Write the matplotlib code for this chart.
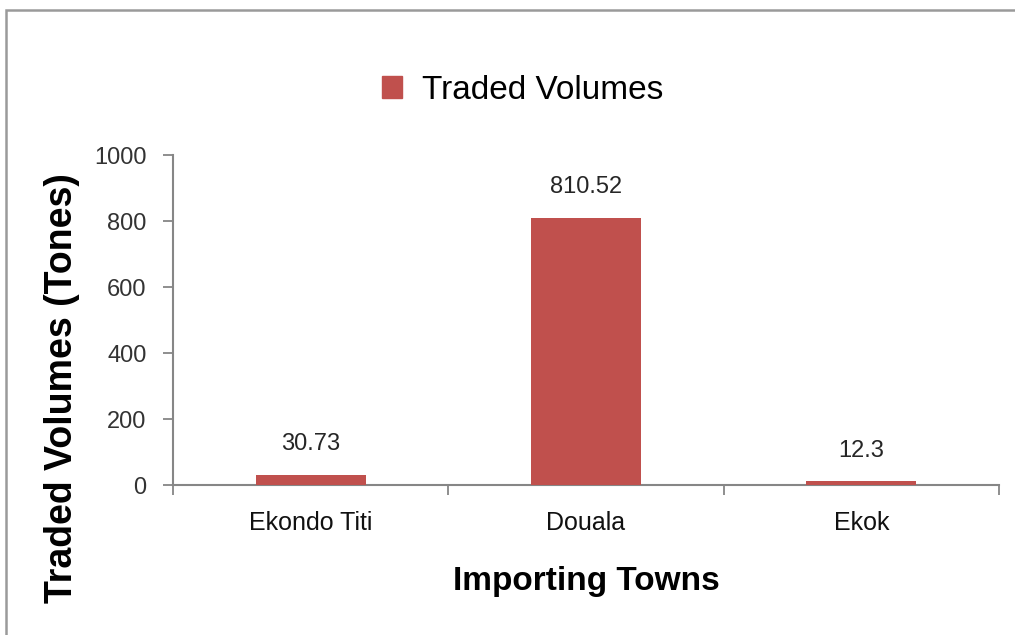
import matplotlib.pyplot as plt
from matplotlib.patches import Patch, Rectangle
import numpy as np

# data
towns = ['Ekondo Titi', 'Douala', 'Ekok']
volumes = [30.73, 810.52, 12.3]
value_labels = ['30.73', '810.52', '12.3']
y_ticks = [0, 200, 400, 600, 800, 1000]

bar_color = '#C0504D'
axis_gray = '#868686'

plt.rcParams['font.family'] = ['Liberation Sans', 'DejaVu Sans']

fig = plt.figure(figsize=(10.15, 6.35), dpi=100)
ax = fig.add_axes([0.1704, 0.2362, 0.8138, 0.5197])

x = np.arange(len(towns))
ax.bar(x, volumes, width=0.4, color=bar_color, zorder=3)

for xi, v, lab in zip(x, volumes, value_labels):
    ax.annotate(lab, (xi, v), xytext=(0, 14), textcoords='offset points',
                ha='center', va='bottom', fontsize=17, color='#262626')

ax.set_xlim(-0.5, len(towns) - 0.5)
ax.set_ylim(0, 1000)
ax.set_yticks(y_ticks)
ax.set_yticklabels([str(t) for t in y_ticks], fontsize=17, color='#333333')

ax.set_xticks(x)
ax.set_xticklabels(towns, fontsize=18, color='#111111')
ax.set_xticks(np.arange(-0.5, len(towns), 1.0), minor=True)
ax.tick_params(axis='x', which='major', length=0, pad=19)
ax.tick_params(axis='x', which='minor', length=7, width=1.3, color=axis_gray)
ax.tick_params(axis='y', length=7, width=1.3, color=axis_gray, pad=12)

for side in ['top', 'right']:
    ax.spines[side].set_visible(False)
for side in ['left', 'bottom']:
    ax.spines[side].set_color(axis_gray)
    ax.spines[side].set_linewidth(1.5)

ax.set_xlabel('Importing Towns', fontsize=24, fontweight='bold', labelpad=22)
ax.set_ylabel('Traded Volumes (Tones)', fontsize=27, fontweight='bold')
ax.yaxis.set_label_coords(-0.112, 0.294)

fig.legend(handles=[Patch(color=bar_color, label='Traded Volumes')],
           loc='center', bbox_to_anchor=(0.515, 0.858), frameon=False,
           fontsize=24, handlelength=0.6, handleheight=0.6, handletextpad=0.6)

# outer frame
fig.patches.append(Rectangle((0.006, -0.1), 1.2, 1.0843, transform=fig.transFigure,
                             fill=False, edgecolor='#9a9a9a', linewidth=1.8))

fig.savefig('out.png', dpi=100)
